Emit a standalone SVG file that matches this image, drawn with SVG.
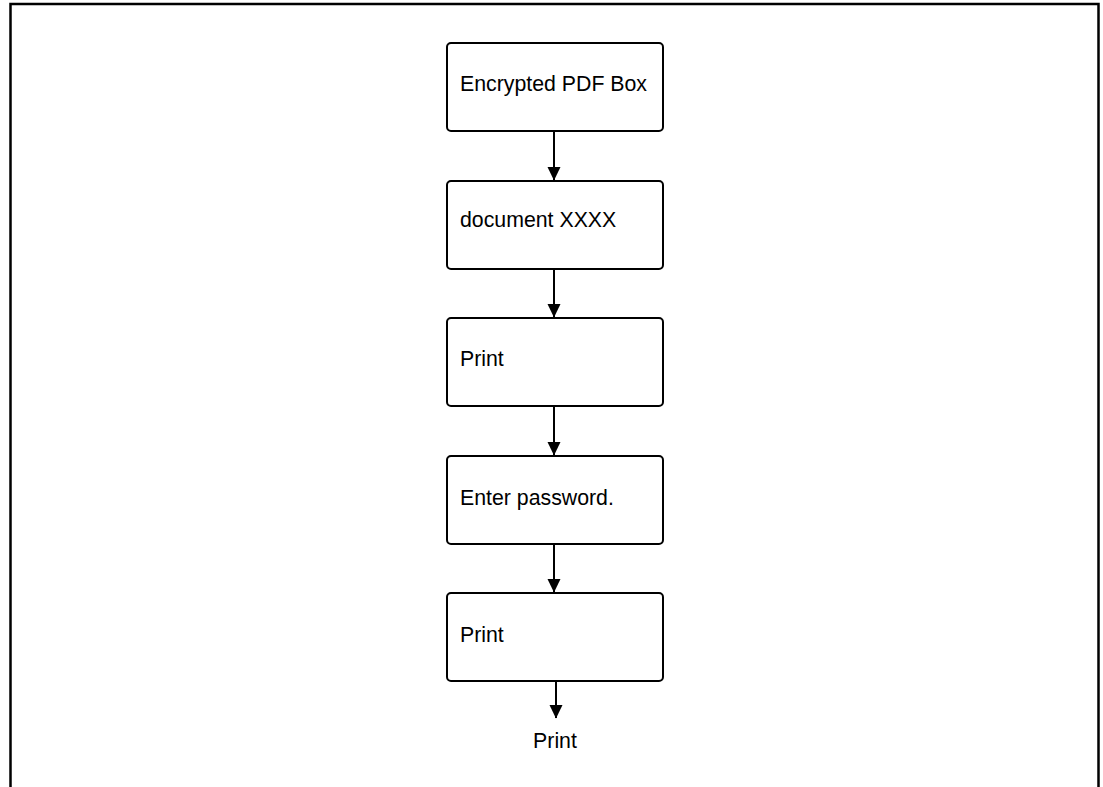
<svg xmlns="http://www.w3.org/2000/svg" width="1103" height="787" viewBox="0 0 1103 787">
<style>
.box{fill:#fff;stroke:#000;stroke-width:2}
.lbl{font-family:"Liberation Sans",Arial,Helvetica,sans-serif;font-size:21.3px;fill:#000}
.conn{stroke:#000;stroke-width:2;fill:none}
</style>
<defs>
<marker id="ah" markerUnits="userSpaceOnUse" markerWidth="14" markerHeight="14" viewBox="0 0 14 14" refX="13" refY="7" orient="auto">
<path d="M0,0.5 L13.5,7 L0,13.5 Z" fill="#000"/>
</marker>
</defs>
<rect width="1103" height="787" fill="#fff"/>
<path d="M10.5,787 V4 H1098.5 V787" fill="none" stroke="#000" stroke-width="2.5"/>
<g id="n1"><rect class="box" x="447" y="43" width="216" height="88" rx="4"/><text class="lbl" x="460" y="91">Encrypted PDF Box</text></g>
<g id="n2"><rect class="box" x="447" y="181" width="216" height="88" rx="4"/><text class="lbl" x="460" y="227">document XXXX</text></g>
<g id="n3"><rect class="box" x="447" y="318" width="216" height="88" rx="4"/><text class="lbl" x="460" y="366">Print</text></g>
<g id="n4"><rect class="box" x="447" y="456" width="216" height="88" rx="4"/><text class="lbl" x="460" y="505">Enter password.</text></g>
<g id="n5"><rect class="box" x="447" y="593" width="216" height="88" rx="4"/><text class="lbl" x="460" y="642">Print</text></g>
<g id="n6"><text class="lbl" x="555" y="748" text-anchor="middle">Print</text></g>
<g id="connectors">
<line class="conn" x1="554" y1="131" x2="554" y2="180" marker-end="url(#ah)"/>
<line class="conn" x1="554" y1="269" x2="554" y2="317" marker-end="url(#ah)"/>
<line class="conn" x1="554" y1="406" x2="554" y2="455" marker-end="url(#ah)"/>
<line class="conn" x1="554" y1="544" x2="554" y2="592" marker-end="url(#ah)"/>
<line class="conn" x1="556" y1="681" x2="556" y2="718" marker-end="url(#ah)"/>
</g>
</svg>
